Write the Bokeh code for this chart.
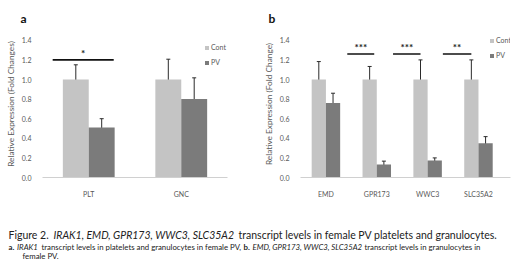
from bokeh.plotting import figure
from bokeh.models import Range1d, FixedTicker, Legend, LegendItem, Whisker, ColumnDataSource, TeeHead
from bokeh.layouts import column, row
from bokeh.embed import file_html
from bokeh.resources import INLINE
from bokeh.core.properties import value

# ---------------- data ----------------
cats_a = ["PLT", "GNC"]
cont_a = [1.0, 1.0]
cont_a_lo = [0.867, 0.793]
cont_a_hi = [1.15, 1.207]
pv_a = [0.51, 0.80]
pv_a_lo = [0.427, 0.60]
pv_a_hi = [0.60, 1.017]

cats_b = ["EMD", "GPR173", "WWC3", "SLC35A2"]
cont_b = [1.0, 1.0, 1.0, 1.0]
cont_b_lo = [0.827, 0.873, 0.80, 0.80]
cont_b_hi = [1.183, 1.133, 1.20, 1.20]
pv_b = [0.76, 0.133, 0.173, 0.35]
pv_b_lo = [0.673, 0.10, 0.14, 0.283]
pv_b_hi = [0.86, 0.167, 0.20, 0.417]

sig_a_x0 = [0.11]
sig_a_x1 = [0.77]
sig_a_y = [1.2]
sig_a_lab = ["*"]

sig_b_x0 = [0.92, 1.82, 2.80]
sig_b_x1 = [1.45, 2.36, 3.36]
sig_b_y = [1.26, 1.26, 1.26]
sig_b_lab = ["***", "***", "**"]

yticks = [0.0, 0.2, 0.4, 0.6, 0.8, 1.0, 1.2, 1.4]

FONT = "Lato"
C_CONT = "#c4c4c4"
C_PV = "#7b7b7b"
C_ERR = "#2b2b2b"
C_TXT = "#595959"


def panel(cats, cont, clo, chi, pv, plo, phi, sx0, sx1, sy, slab,
          xmax, ml, mr, ylabel, letter, letter_off, leg_loc):
    p = figure(width=260, height=200, x_range=Range1d(0, xmax), y_range=Range1d(0, 1.5),
               output_backend="svg", toolbar_location=None,
               min_border_left=ml, min_border_right=mr, min_border_top=30, min_border_bottom=20)
    p.outline_line_color = None
    p.grid.visible = False
    p.background_fill_color = "white"
    centers = [i + 0.5 for i in range(len(cats))]
    xc = [c - 0.14 for c in centers]
    xp = [c + 0.14 for c in centers]
    src_c = ColumnDataSource(dict(x=xc, top=cont, lo=clo, hi=chi))
    src_p = ColumnDataSource(dict(x=xp, top=pv, lo=plo, hi=phi))
    rc = p.vbar(x="x", top="top", width=0.28, source=src_c, fill_color=C_CONT, line_color=None)
    rp = p.vbar(x="x", top="top", width=0.28, source=src_p, fill_color=C_PV, line_color=None)
    for s in (src_c, src_p):
        w = Whisker(base="x", lower="lo", upper="hi", source=s, line_color=C_ERR, line_width=1,
                    lower_head=TeeHead(size=4, line_color=C_ERR, line_width=1),
                    upper_head=TeeHead(size=4, line_color=C_ERR, line_width=1))
        p.add_layout(w)
    # significance bars
    ssrc = ColumnDataSource(dict(x0=sx0, x1=sx1, y=sy, lab=slab,
                                 xm=[(a + b) / 2 for a, b in zip(sx0, sx1)]))
    p.segment(x0="x0", y0="y", x1="x1", y1="y", source=ssrc, line_color="#111111", line_width=1.6)
    p.text(x="xm", y="y", text="lab", source=ssrc, text_font=value(FONT), text_font_size="10px",
           text_font_style="bold", text_align="center", text_baseline="bottom", y_offset=-1,
           text_color="#222222")
    # axes
    p.yaxis.ticker = FixedTicker(ticks=yticks)
    p.yaxis.bounds = (0, 1.4)
    p.yaxis.major_label_overrides = {t: f"{t:.1f}" for t in yticks}
    p.yaxis.axis_line_color = None
    p.yaxis.major_tick_line_color = None
    p.yaxis.minor_tick_line_color = None
    p.yaxis.major_label_standoff = 5
    p.yaxis.axis_label = ylabel
    p.yaxis.axis_label_standoff = 3
    p.yaxis.axis_label_text_font = FONT
    p.yaxis.axis_label_text_font_size = "8.3px"
    p.yaxis.axis_label_text_font_style = "normal"
    p.yaxis.axis_label_text_color = C_TXT
    p.xaxis.ticker = FixedTicker(ticks=centers)
    p.xaxis.major_label_overrides = {c: n for c, n in zip(centers, cats)}
    p.xaxis.axis_line_color = "#d0d0d0"
    p.xaxis.major_tick_line_color = None
    p.xaxis.minor_tick_line_color = None
    p.xaxis.major_label_standoff = 6
    for ax in (p.xaxis, p.yaxis):
        ax.major_label_text_font = FONT
        ax.major_label_text_font_size = "7px"
        ax.major_label_text_color = C_TXT
    leg = Legend(items=[LegendItem(label="Cont", renderers=[rc]), LegendItem(label="PV", renderers=[rp])],
                 location=leg_loc, padding=0, margin=0, spacing=7, glyph_width=5, glyph_height=5,
                 label_height=7, label_standoff=2, label_text_font=FONT, label_text_font_size="7px",
                 label_text_color=C_TXT, border_line_color=None, background_fill_alpha=0)
    p.add_layout(leg)
    p.title.text = letter
    p.title.align = "left"
    p.title.offset = letter_off
    p.title.standoff = 9
    p.title.text_font = FONT
    p.title.text_font_size = "12px"
    p.title.text_font_style = "bold"
    p.title.text_color = "#111111"
    return p


pa = panel(cats_a, cont_a, cont_a_lo, cont_a_hi, pv_a, pv_a_lo, pv_a_hi,
           sig_a_x0, sig_a_x1, sig_a_y, sig_a_lab, 2.0, 42, 33,
           "Relative Expression (Fold Changes)", "a", -22, (162, 111))
pb = panel(cats_b, cont_b, cont_b_lo, cont_b_hi, pv_b, pv_b_lo, pv_b_hi,
           sig_b_x0, sig_b_x1, sig_b_y, sig_b_lab, 4.13, 32, 10,
           "Relative Expression (Fold Change)", "b", -32, (189, 118))

# ---------------- caption ----------------
pc = figure(width=520, height=68, x_range=Range1d(0, 520), y_range=Range1d(68, 0),
            output_backend="svg", toolbar_location=None, x_axis_type=None, y_axis_type=None,
            min_border=0)
pc.outline_line_color = None
pc.grid.visible = False

def cap(x, y, t, size, style="normal", align="left", color="#222222"):
    pc.text(x=[x], y=[y], text=[t], text_font=value(FONT), text_font_size=size,
            text_font_style=style, text_align=align, text_baseline="middle", text_color=color)

F1 = "10.5px"
F2 = "7.8px"
cap(8, 34, "Figure 2.", F1)
cap(53, 34, "IRAK1, EMD, GPR173, WWC3, SLC35A2", F1, "italic")
cap(238, 34, "transcript levels in female PV platelets and granulocytes.", F1)
cap(8, 46, "a.", F2, "bold")
cap(16.5, 46, "IRAK1", F2, "italic")
cap(41, 46, "transcript levels in platelets and granulocytes in female PV,", F2)
cap(243, 46, "b.", F2, "bold")
cap(252, 46, "EMD, GPR173, WWC3, SLC35A2", F2, "italic")
cap(364, 46, "transcript levels in granulocytes in", F2)
cap(22, 55, "female PV.", F2)

layout = column(row(pa, pb, spacing=0), pc, spacing=0)
open("out.html", "w").write(file_html(layout, INLINE))
